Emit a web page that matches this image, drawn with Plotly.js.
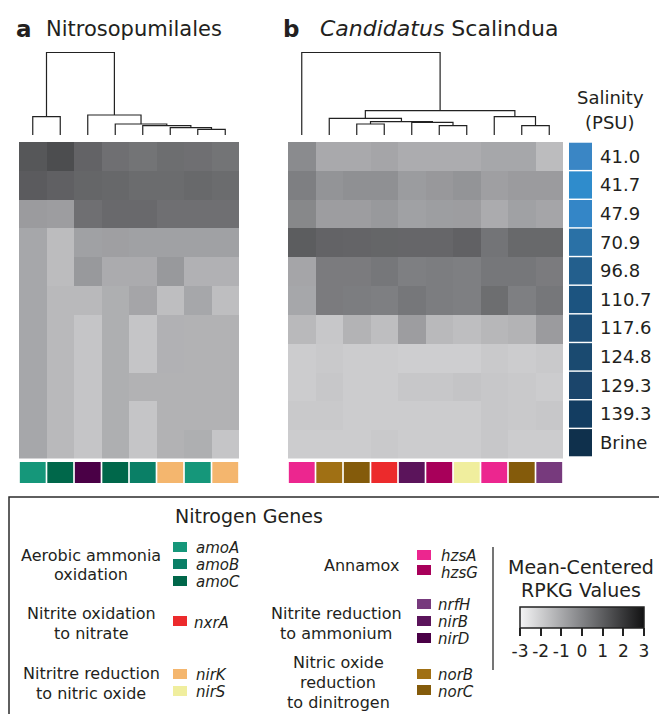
<!DOCTYPE html>
<html><head><meta charset="utf-8">
<script src="https://cdn.plot.ly/plotly-3.0.1.min.js"></script>
<style>html,body{margin:0;padding:0;background:#fff}</style>
</head><body><div id="chart" style="width:659px;height:714px"></div>
<script>
// ---------------- DATA ----------------
const genesA = ['amoA','amoC','nirD','amoC','amoB','nirK','amoA','nirK'];
const genesB = ['hzsA','norB','norC','nxrA','nirB','hzsG','nirS','hzsA','norC','nrfH'];
const salinity = ['41.0','41.7','47.9','70.9','96.8','110.7','117.6','124.8','129.3','139.3','Brine'];
const salinityColors = ['#3a86c5','#2f8ccc','#3486c7','#2a71a6','#235f8d','#1c5480','#1d4f78','#1a4a70','#1b456b','#133d61','#0f304c'];
const geneColors = {amoA:'#15977a', amoB:'#0a7f66', amoC:'#00674a', nxrA:'#ec2a2c', nirK:'#f4b66e', nirS:'#f0ee9e',
  hzsA:'#ec268f', hzsG:'#a8005a', nrfH:'#773a7d', nirB:'#5b145b', nirD:'#4a0046', norB:'#a07014', norC:'#845b0b'};
// mean-centered RPKG values (rows = samples top->bottom, cols = genes in dendrogram order)
const rpkgA = [
  [1.18, 1.44, 0.84, 0.52, 0.41, 0.57, 0.52, 0.41],
  [1.05, 0.92, 0.78, 0.73, 0.62, 0.62, 0.70, 0.62],
  [-0.65,-0.70, 0.52, 0.68, 0.68, 0.52, 0.52, 0.52],
  [-0.96,-1.52,-0.80,-0.75,-0.80,-0.80,-0.80,-0.80],
  [-0.96,-1.52,-0.59,-1.07,-1.07,-0.59,-1.23,-1.23],
  [-0.96,-1.44,-1.44,-1.17,-0.91,-1.57,-0.96,-1.57],
  [-0.96,-1.44,-1.76,-1.17,-1.76,-1.23,-1.25,-1.25],
  [-0.96,-1.44,-1.76,-1.17,-1.76,-1.23,-1.25,-1.25],
  [-0.96,-1.44,-1.76,-1.17,-1.25,-1.25,-1.25,-1.25],
  [-0.96,-1.44,-1.76,-1.17,-1.76,-1.25,-1.25,-1.25],
  [-0.96,-1.44,-1.76,-1.17,-1.76,-1.25,-1.17,-1.76]
];
const rpkgB = [
  [-0.22,-1.02,-1.02,-0.91,-1.10,-1.10,-1.10,-0.96,-0.96,-1.52],
  [ 0.10,-0.46,-0.35,-0.35,-0.67,-0.57,-0.46,-0.75,-0.65,-0.65],
  [-0.12,-0.70,-0.70,-0.59,-0.80,-0.72,-0.70,-1.07,-0.80,-0.91],
  [ 1.02, 0.84, 0.81, 0.78, 0.76, 0.76, 0.89, 0.39, 0.70, 0.70],
  [-0.91, 0.20, 0.20, 0.31, 0.10, 0.15, 0.10, 0.31, 0.31, 0.20],
  [-0.96, 0.20, 0.15, 0.10, 0.31, 0.15, 0.10, 0.57, 0.10, 0.31],
  [-1.44,-1.81,-1.28,-1.57,-0.70,-1.44,-1.57,-1.39,-1.28,-0.65],
  [-1.94,-1.86,-1.94,-1.94,-2.00,-2.00,-2.00,-1.86,-1.94,-1.86],
  [-1.94,-1.81,-1.94,-1.94,-1.81,-1.81,-1.73,-1.81,-1.86,-1.94],
  [-1.86,-1.86,-1.94,-1.94,-1.94,-1.94,-1.94,-1.81,-1.86,-1.81],
  [-1.94,-1.94,-1.94,-1.86,-1.94,-1.94,-1.94,-1.81,-1.94,-1.94]
];
// dendrogram linkages: [child1, child2, height]; leaves 0..n-1 in display order, new nodes n, n+1, ...
const linkA = [[6,7,5.7],[5,8,7.3],[4,9,9.3],[3,10,11],[2,11,20],[0,1,18.3],[13,12,82.7]];
const linkB = [[5,6,9.3],[8,9,9.3],[2,3,11],[4,10,12.7],[12,13,13.3],[1,14,16.7],[7,11,18.3],[15,16,24.3],[0,17,82.7]];
const cbTicks = [-3,-2,-1,0,1,2,3];
const cbTickText = ['-3','-2','-1','0','1','2','3'];
// legend groups
const legendLeft = [
  {lines:['Aerobic ammonia','oxidation'], genes:['amoA','amoB','amoC']},
  {lines:['Nitrite oxidation','to nitrate'], genes:['nxrA']},
  {lines:['Nitritre reduction','to nitric oxide'], genes:['nirK','nirS']}
];
const legendRight = [
  {lines:['Annamox'], genes:['hzsA','hzsG']},
  {lines:['Nitrite reduction','to ammonium'], genes:['nrfH','nirB','nirD']},
  {lines:['Nitric oxide','reduction','to dinitrogen'], genes:['norB','norC']}
];

// ---------------- LAYOUT HELPERS ----------------
const W=659, H=714;
const px = x => x/W;
const py = y => 1 - y/H;
const FONT = 'DejaVu Sans';
const TXT = '#231f20';
function dendro(link, n){
  const pos=[], ht=[];
  for(let i=0;i<n;i++){pos[i]=i; ht[i]=0;}
  const xs=[], ys=[];
  link.forEach(([a,b,h],k)=>{
    xs.push(pos[a],pos[a],pos[b],pos[b],null);
    ys.push(ht[a],h,h,ht[b],null);
    pos[n+k]=(pos[a]+pos[b])/2; ht[n+k]=h;
  });
  return {xs,ys};
}
const hid = (dom, rng, extra) => Object.assign({domain:dom, range:rng, visible:false, showgrid:false, zeroline:false, fixedrange:true}, extra||{});

const colA=[19,239], colB=[288,563], rowsY=[142,458.5], geneY=[462,483], dendY=[52,135];
const dA = dendro(linkA, genesA.length), dB = dendro(linkB, genesB.length);
const nA = genesA.length, nB = genesB.length, nR = rpkgA.length;

const traces = [
  {type:'heatmap', z:rpkgA, coloraxis:'coloraxis', xaxis:'x', yaxis:'y', hoverinfo:'skip'},
  {type:'heatmap', z:rpkgB, coloraxis:'coloraxis', xaxis:'x2', yaxis:'y2', hoverinfo:'skip'},
  {type:'bar', x:genesA.map((g,i)=>i), y:genesA.map(()=>1), width:0.94, marker:{color:genesA.map(g=>geneColors[g]), line:{width:0}}, xaxis:'x3', yaxis:'y3', hoverinfo:'skip'},
  {type:'bar', x:genesB.map((g,i)=>i), y:genesB.map(()=>1), width:0.94, marker:{color:genesB.map(g=>geneColors[g]), line:{width:0}}, xaxis:'x4', yaxis:'y4', hoverinfo:'skip'},
  {type:'scatter', mode:'lines', x:dA.xs, y:dA.ys, line:{color:'#222', width:1.2}, xaxis:'x5', yaxis:'y5', hoverinfo:'skip', connectgaps:false},
  {type:'scatter', mode:'lines', x:dB.xs, y:dB.ys, line:{color:'#222', width:1.2}, xaxis:'x6', yaxis:'y6', hoverinfo:'skip', connectgaps:false},
  {type:'bar', orientation:'h', x:salinity.map(()=>1), y:salinity, width:0.95, marker:{color:salinityColors, line:{width:0}}, xaxis:'x7', yaxis:'y7', hoverinfo:'skip'}
];

const anns = [];
function ann(text,x,y,size,o){ anns.push(Object.assign({text, x:px(x), y:py(y), xref:'paper', yref:'paper', showarrow:false,
  xanchor:'center', yanchor:'middle', font:{family:FONT, size, color:TXT}}, o||{})); }
ann('<b>a</b>', 14, 29, 23, {xanchor:'left'});
ann('Nitrosopumilales', 44, 29, 21, {xanchor:'left'});
ann('<b>b</b>', 281, 29, 23, {xanchor:'left'});
ann('<i>Candidatus</i> Scalindua', 318, 29, 22, {xanchor:'left'});
ann('Salinity', 610, 98, 18);
ann('(PSU)', 610, 122, 18);
ann('Nitrogen Genes', 249, 516, 19);
ann('Mean-Centered', 581, 567, 19);
ann('RPKG Values', 581, 590, 19);

const shapes = [
  {type:'rect', xref:'paper', yref:'paper', x0:px(9), x1:px(720), y0:py(497), y1:py(730), line:{color:'#2b2b2b', width:1.5}, fillcolor:'rgba(0,0,0,0)'},
  {type:'line', xref:'paper', yref:'paper', x0:px(493), x1:px(493), y0:py(547), y1:py(670), line:{color:'#2b2b2b', width:1.3}}
];
function sw(g, x, y){ shapes.push({type:'rect', xref:'paper', yref:'paper', x0:px(x), x1:px(x+14), y0:py(y), y1:py(y+10), line:{width:0}, fillcolor:geneColors[g]}); }

const GS = 15; // gene label font size
// left legend column
const leftTextY = [[555,574],[613,633],[673,693]];
const leftSwY = [[542,559,576],[616],[669,686]];
const leftLabY = [[548,565,582],[623],[675,692]];
legendLeft.forEach((grp,i)=>{
  grp.lines.forEach((l,j)=>ann(l, 91, leftTextY[i][j], 16));
  grp.genes.forEach((g,j)=>{ sw(g,173,leftSwY[i][j]); ann('<i>'+g+'</i>', i==1?192:194, leftLabY[i][j], GS, {xanchor:'left'}); });
});
const rightTextX = [362,336,338];
const rightTextY = [[565],[613,633],[662,682,702]];
const rightSwY = [[550,565],[599,616,633],[669,685]];
const rightLabY = [[556,573],[605,622,639],[675,692]];
legendRight.forEach((grp,i)=>{
  grp.lines.forEach((l,j)=>ann(l, rightTextX[i], rightTextY[i][j], 16));
  grp.genes.forEach((g,j)=>{ sw(g,417,rightSwY[i][j]); ann('<i>'+g+'</i>', i==0?439:436, rightLabY[i][j], GS, {xanchor:'left'}); });
});

const layout = {
  width:W, height:H, margin:{l:0,r:0,t:0,b:0}, showlegend:false,
  paper_bgcolor:'#fff', plot_bgcolor:'rgba(0,0,0,0)', font:{family:FONT, color:TXT},
  xaxis: hid([px(colA[0]),px(colA[1])], [-0.5,nA-0.5]),
  yaxis: hid([py(rowsY[1]),py(rowsY[0])], [nR-0.5,-0.5]),
  xaxis2: hid([px(colB[0]),px(colB[1])], [-0.5,nB-0.5]),
  yaxis2: hid([py(rowsY[1]),py(rowsY[0])], [nR-0.5,-0.5]),
  xaxis3: hid([px(colA[0]),px(colA[1])], [-0.5,nA-0.5]),
  yaxis3: hid([py(geneY[1]),py(geneY[0])], [0,1]),
  xaxis4: hid([px(colB[0]),px(colB[1])], [-0.5,nB-0.5]),
  yaxis4: hid([py(geneY[1]),py(geneY[0])], [0,1]),
  xaxis5: hid([px(colA[0]),px(colA[1])], [-0.5,nA-0.5]),
  yaxis5: hid([py(dendY[1]),py(dendY[0])], [0,83]),
  xaxis6: hid([px(colB[0]),px(colB[1])], [-0.5,nB-0.5]),
  yaxis6: hid([py(dendY[1]),py(dendY[0])], [0,83]),
  xaxis7: hid([px(569),px(592)], [0,1]),
  yaxis7: {domain:[py(457),py(142)], type:'category', autorange:'reversed', side:'right', anchor:'x7',
    showgrid:false, zeroline:false, showline:false, ticks:'', ticklabelstandoff:7,
    tickfont:{family:FONT, size:18, color:TXT}, fixedrange:true},
  coloraxis: {cmin:-3, cmax:3, colorscale:[[0,'#f4f4f5'],[0.5,'#828386'],[1,'#121213']],
    colorbar:{orientation:'h', x:px(520), xanchor:'left', y:py(607), yanchor:'top', len:124, lenmode:'pixels',
      thickness:21, thicknessmode:'pixels', xpad:0, ypad:0, outlinewidth:1.5, outlinecolor:'#222',
      tickvals:cbTicks, ticktext:cbTickText, ticks:'outside', ticklen:8, tickwidth:2, tickcolor:'#222',
      tickfont:{family:FONT, size:17, color:TXT}}},
  annotations: anns, shapes: shapes
};
Plotly.newPlot('chart', traces, layout, {staticPlot:true, displayModeBar:false});
</script></body></html>
